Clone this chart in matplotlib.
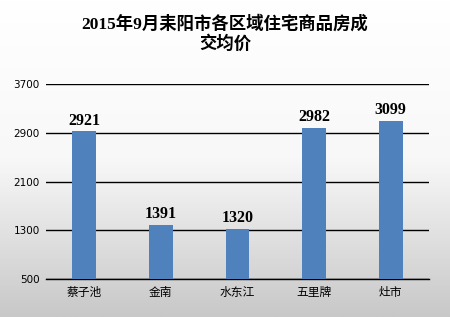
import numpy as np
import matplotlib
matplotlib.use("Agg")
import matplotlib.pyplot as plt
from matplotlib.colors import LinearSegmentedColormap

categories = ["蔡子池", "金南", "水东江", "五里牌", "灶市"]
values = [2921, 1391, 1320, 2982, 3099]
yticks = [500, 1300, 2100, 2900, 3700]
title = "2015年9月耒阳市各区域住宅商品房成\n交均价"

plt.rcParams['font.family'] = ['Noto Sans CJK SC', 'DejaVu Sans']

fig = plt.figure(figsize=(4.5, 3.17), dpi=100)
# background gradient
bg = fig.add_axes([0, 0, 1, 1], zorder=-10)
grad = np.linspace(0, 1, 256).reshape(-1, 1)
cmap = LinearSegmentedColormap.from_list("g", ["#ffffff", "#f8f8f8", "#c8c8c8"])
bg.imshow(grad, aspect="auto", cmap=cmap, extent=[0, 1, 0, 1], origin="upper")
bg.axis("off")

ax = fig.add_axes([46/450, 1 - 279/317, (429-46)/450, (279-84)/317])
ax.patch.set_alpha(0)
x = np.arange(len(categories))
ax.bar(x, values, width=0.31, color="#4f81bd", bottom=0, zorder=3)
ax.set_ylim(500, 3700)
ax.set_xlim(-0.5, len(categories) - 0.5)
ax.set_yticks(yticks)
ax.set_yticklabels([str(v) for v in yticks], fontsize=7.5, family=['DejaVu Sans'])
ax.set_xticks(x)
ax.set_xticklabels(categories, fontsize=8.5)
ax.tick_params(axis='y', length=0, pad=4.5)
ax.tick_params(axis='x', length=0, pad=5)
ax.yaxis.grid(True, color="black", linewidth=1, zorder=1)
for s in ["left", "right", "top"]:
    ax.spines[s].set_visible(False)
ax.spines["bottom"].set_color("black")
ax.spines["bottom"].set_linewidth(1)
for xi, v in zip(x, values):
    ax.text(xi, v + 45, str(v), ha="center", va="bottom", fontsize=11.5,
            fontweight="bold", family=["Liberation Serif"], zorder=4)

fig.text(0.5, 1 - 34/317, title, ha="center", va="center", fontsize=12.5,
         fontweight="bold", family=["Liberation Serif", "Noto Sans CJK SC"],
         linespacing=1.15)

fig.savefig("out.png", dpi=100)
